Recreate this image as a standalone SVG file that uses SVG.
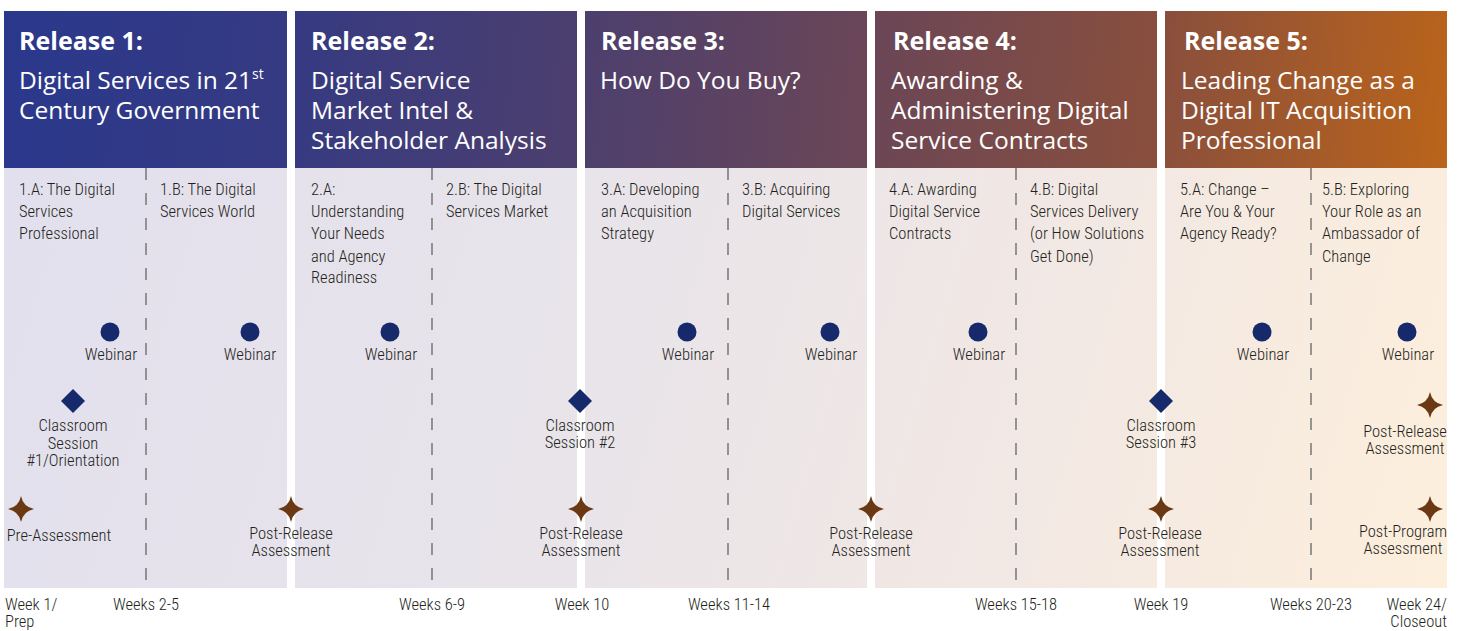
<svg xmlns="http://www.w3.org/2000/svg" width="1464" height="631" viewBox="0 0 1464 631">
<defs>
<linearGradient id="hdr" gradientUnits="userSpaceOnUse" x1="4" y1="11" x2="1447" y2="168">
<stop offset="0" stop-color="#2a388c"/>
<stop offset="0.2" stop-color="#363a82"/>
<stop offset="0.4" stop-color="#4c3f6e"/>
<stop offset="0.6" stop-color="#6b4656"/>
<stop offset="0.8" stop-color="#8a4f3c"/>
<stop offset="1" stop-color="#bb641a"/>
</linearGradient>
<linearGradient id="bod" gradientUnits="userSpaceOnUse" x1="4" y1="168" x2="1447" y2="588">
<stop offset="0" stop-color="#e2e0ee"/>
<stop offset="0.4" stop-color="#e8e4ea"/>
<stop offset="0.7" stop-color="#f2e8e4"/>
<stop offset="1" stop-color="#fdefdc"/>
</linearGradient>
<circle id="web" r="9.5" fill="#15296b"/>
<path id="dia" d="M0,-12 L12,0 L0,12 L-12,0Z" fill="#15296b"/>
<path id="star" d="M0,-13 Q2.2,-2.2 13,0 Q2.2,2.2 0,13 Q-2.2,2.2 -13,0 Q-2.2,-2.2 0,-13Z" fill="#6a3913"/>
</defs>
<style>
.rel{font-family:"Open Sans","Noto Sans",sans-serif;font-weight:bold;font-size:25px;fill:#fff}
.sub{font-family:"Open Sans","Noto Sans",sans-serif;font-size:24.5px;fill:#fff}
.b{font-family:"Liberation Sans Narrow","Roboto Condensed","DejaVu Sans Condensed","Liberation Sans",sans-serif;font-size:16.5px;font-weight:300;fill:#231f20}
.c{text-anchor:middle}
.e{text-anchor:end}
.dash{stroke:#7d7d7d;stroke-width:1.6;stroke-dasharray:12 13;fill:none}
</style>
<rect x="0" y="0" width="1464" height="631" fill="#fff"/>

<g id="release1">
<rect x="4" y="11" width="283" height="157" fill="url(#hdr)"/>
<rect x="4" y="168" width="283" height="420" fill="url(#bod)"/>
<text class="rel" x="19" y="50">Release 1:</text>
<text class="sub" x="19" y="89">Digital Services in 21<tspan font-size="14" dy="-10">st</tspan><tspan x="19" dy="40">Century Government</tspan></text>
<text class="b" x="19" y="195">1.A: The Digital<tspan x="19" dy="22">Services</tspan><tspan x="19" dy="22">Professional</tspan></text>
<text class="b" x="160" y="195">1.B: The Digital<tspan x="160" dy="22">Services World</tspan></text>
</g>

<g id="release2">
<rect x="295" y="11" width="282" height="157" fill="url(#hdr)"/>
<rect x="295" y="168" width="282" height="420" fill="url(#bod)"/>
<text class="rel" x="311" y="50">Release 2:</text>
<text class="sub" x="311" y="89">Digital Service<tspan x="311" dy="30">Market Intel &amp;</tspan><tspan x="311" dy="30">Stakeholder Analysis</tspan></text>
<text class="b" x="311" y="195">2.A:<tspan x="311" dy="22">Understanding</tspan><tspan x="311" dy="22">Your Needs</tspan><tspan x="311" dy="23">and Agency</tspan><tspan x="311" dy="21">Readiness</tspan></text>
<text class="b" x="446" y="195">2.B: The Digital<tspan x="446" dy="22">Services Market</tspan></text>
</g>

<g id="release3">
<rect x="585" y="11" width="282" height="157" fill="url(#hdr)"/>
<rect x="585" y="168" width="282" height="420" fill="url(#bod)"/>
<text class="rel" x="601" y="50">Release 3:</text>
<text class="sub" x="600" y="89">How Do You Buy?</text>
<text class="b" x="601" y="195">3.A: Developing<tspan x="601" dy="22">an Acquisition</tspan><tspan x="601" dy="22">Strategy</tspan></text>
<text class="b" x="742" y="195">3.B: Acquiring<tspan x="742" dy="22">Digital Services</tspan></text>
</g>

<g id="release4">
<rect x="875" y="11" width="282" height="157" fill="url(#hdr)"/>
<rect x="875" y="168" width="282" height="420" fill="url(#bod)"/>
<text class="rel" x="893" y="50">Release 4:</text>
<text class="sub" x="891" y="89">Awarding &amp;<tspan x="891" dy="30">Administering Digital</tspan><tspan x="891" dy="30">Service Contracts</tspan></text>
<text class="b" x="889" y="195">4.A: Awarding<tspan x="889" dy="22">Digital Service</tspan><tspan x="889" dy="22">Contracts</tspan></text>
<text class="b" x="1030" y="195">4.B: Digital<tspan x="1030" dy="22">Services Delivery</tspan><tspan x="1030" dy="22">(or How Solutions</tspan><tspan x="1030" dy="23">Get Done)</tspan></text>
</g>

<g id="release5">
<rect x="1165" y="11" width="282" height="157" fill="url(#hdr)"/>
<rect x="1165" y="168" width="282" height="420" fill="url(#bod)"/>
<text class="rel" x="1184" y="50">Release 5:</text>
<text class="sub" x="1181" y="89">Leading Change as a<tspan x="1181" dy="30">Digital IT Acquisition</tspan><tspan x="1181" dy="30">Professional</tspan></text>
<text class="b" x="1180" y="195">5.A: Change –<tspan x="1180" dy="22">Are You &amp; Your</tspan><tspan x="1180" dy="22">Agency Ready?</tspan></text>
<text class="b" x="1322" y="195">5.B: Exploring<tspan x="1322" dy="22">Your Role as an</tspan><tspan x="1322" dy="22">Ambassador of</tspan><tspan x="1322" dy="23">Change</tspan></text>
</g>

<g id="dividers">
<line class="dash" x1="146" y1="168" x2="146" y2="588"/>
<line class="dash" x1="432" y1="168" x2="432" y2="588"/>
<line class="dash" x1="728" y1="168" x2="728" y2="588"/>
<line class="dash" x1="1016" y1="168" x2="1016" y2="588"/>
<line class="dash" x1="1311" y1="168" x2="1311" y2="588"/>
</g>

<g id="webinars">
<use href="#web" x="110" y="332"/><text class="b c" x="111" y="360">Webinar</text>
<use href="#web" x="250" y="332"/><text class="b c" x="250" y="360">Webinar</text>
<use href="#web" x="390" y="332"/><text class="b c" x="391" y="360">Webinar</text>
<use href="#web" x="687" y="332"/><text class="b c" x="688" y="360">Webinar</text>
<use href="#web" x="830" y="332"/><text class="b c" x="831" y="360">Webinar</text>
<use href="#web" x="978" y="332"/><text class="b c" x="979" y="360">Webinar</text>
<use href="#web" x="1262" y="332"/><text class="b c" x="1263" y="360">Webinar</text>
<use href="#web" x="1407" y="332"/><text class="b c" x="1408" y="360">Webinar</text>
</g>

<g id="classrooms">
<use href="#dia" x="73" y="401"/>
<text class="b c" x="73" y="431">Classroom<tspan x="73" dy="18">Session</tspan><tspan x="73" dy="17">#1/Orientation</tspan></text>
<use href="#dia" x="580" y="401"/>
<text class="b c" x="580" y="431">Classroom<tspan x="580" dy="17">Session #2</tspan></text>
<use href="#dia" x="1161" y="401"/>
<text class="b c" x="1161" y="431">Classroom<tspan x="1161" dy="17">Session #3</tspan></text>
</g>

<g id="assessments">
<use href="#star" x="21" y="509"/>
<text class="b c" x="59" y="541">Pre-Assessment</text>
<use href="#star" x="291" y="509"/>
<text class="b c" x="291" y="539">Post-Release<tspan x="291" dy="17">Assessment</tspan></text>
<use href="#star" x="581" y="509"/>
<text class="b c" x="581" y="539">Post-Release<tspan x="581" dy="17">Assessment</tspan></text>
<use href="#star" x="871" y="509"/>
<text class="b c" x="871" y="539">Post-Release<tspan x="871" dy="17">Assessment</tspan></text>
<use href="#star" x="1161" y="509"/>
<text class="b c" x="1160" y="539">Post-Release<tspan x="1160" dy="17">Assessment</tspan></text>
<use href="#star" x="1430" y="405"/>
<text class="b c" x="1405" y="437">Post-Release<tspan x="1405" dy="17">Assessment</tspan></text>
<use href="#star" x="1430" y="509"/>
<text class="b c" x="1403" y="537">Post-Program<tspan x="1403" dy="17">Assessment</tspan></text>
</g>

<g id="weeks">
<text class="b" x="5" y="610">Week 1/<tspan x="5" dy="17">Prep</tspan></text>
<text class="b c" x="146" y="610">Weeks 2-5</text>
<text class="b c" x="432" y="610">Weeks 6-9</text>
<text class="b c" x="582" y="610">Week 10</text>
<text class="b c" x="729" y="610">Weeks 11-14</text>
<text class="b c" x="1016" y="610">Weeks 15-18</text>
<text class="b c" x="1161" y="610">Week 19</text>
<text class="b c" x="1311" y="610">Weeks 20-23</text>
<text class="b e" x="1447" y="610">Week 24/<tspan x="1447" dy="17">Closeout</tspan></text>
</g>
</svg>
